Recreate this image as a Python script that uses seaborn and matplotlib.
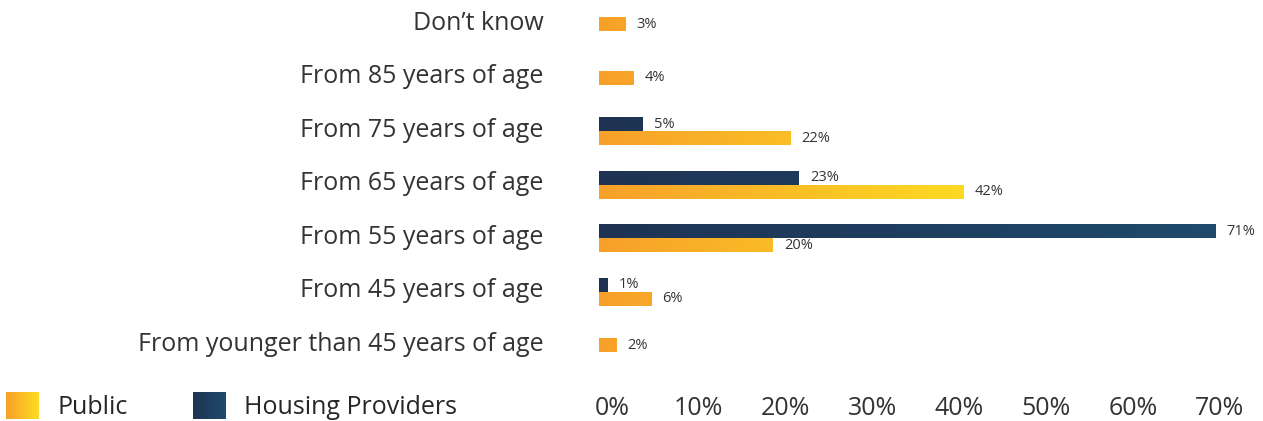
import numpy as np
import pandas as pd
import seaborn as sns
import matplotlib.pyplot as plt
import matplotlib.transforms as mtransforms
from matplotlib.colors import LinearSegmentedColormap
from matplotlib.patches import Patch

categories = ["Don\u2019t know", "From 85 years of age", "From 75 years of age",
              "From 65 years of age", "From 55 years of age", "From 45 years of age",
              "From younger than 45 years of age"]
public = [3, 4, 22, 42, 20, 6, 2]
housing = [None, None, 5, 23, 71, 1, None]
series = ["Housing Providers", "Public"]

rows = []
for cat, h, p in zip(categories, housing, public):
    if h is not None:
        rows.append((cat, "Housing Providers", h))
    rows.append((cat, "Public", p))
df = pd.DataFrame(rows, columns=["category", "group", "value"])

sns.set_style("white")
plt.rcParams["font.family"] = ["Open Sans", "DejaVu Sans"]

orange_cmap = LinearSegmentedColormap.from_list("pub", ["#F7A02A", "#FDDC22"])
navy_cmap = LinearSegmentedColormap.from_list("hp", ["#1E3354", "#1F4A6B"])

fig = plt.figure(figsize=(12.63, 4.21), dpi=100)
ax = fig.add_axes([599 / 1263, 49 / 421, 626 / 1263, 372 / 421])

sns.barplot(data=df, y="category", x="value", hue="group", hue_order=series,
            order=categories, palette={"Housing Providers": "#1F3C5E", "Public": "#F9B026"},
            width=0.52, orient="h", legend=False, ax=ax)

# bars with only one series sit in the middle of their row
has_housing = [h is not None for h in housing]
for i, bar in enumerate(ax.containers[1]):
    if not has_housing[i]:
        bar.set_y(i - bar.get_height() / 2)

# gradient fills
for cont, cmap, vmax in [(ax.containers[0], navy_cmap, 71), (ax.containers[1], orange_cmap, 44)]:
    for bar in cont:
        x0, y0, w, h = bar.get_x(), bar.get_y(), bar.get_width(), bar.get_height()
        if not w or np.isnan(w):
            continue
        grad = np.linspace(0, w, 256).reshape(1, -1)
        ax.imshow(grad, extent=[x0, x0 + w, y0 + h, y0], cmap=cmap, vmin=0, vmax=vmax,
                  aspect="auto", zorder=3, interpolation="bilinear")
ax.set_xlim(0, 72.1)
ax.set_ylim(6.5, -0.45)

for cont in ax.containers:
    ax.bar_label(cont, labels=[f"{v:g}%" for v in cont.datavalues], padding=8,
                 fontsize=10.5, color="#333333")

ax.set_xticks(range(0, 71, 10))
ax.set_xticklabels([f"{t}%" for t in range(0, 71, 10)])
ax.tick_params(axis="x", length=0, pad=17, labelsize=18, labelcolor="#333333")
ax.tick_params(axis="y", length=0, pad=40, labelsize=18, labelcolor="#333333")
xshift = mtransforms.ScaledTranslation(13 / 100, 0, fig.dpi_scale_trans)
for lab in ax.get_xticklabels():
    lab.set_transform(lab.get_transform() + xshift)
yshift = mtransforms.ScaledTranslation(0, 4 / 100, fig.dpi_scale_trans)
for lab in ax.get_yticklabels():
    lab.set_transform(lab.get_transform() + yshift)
ax.set_xlabel("")
ax.set_ylabel("")
sns.despine(ax=ax, left=True, bottom=True)

handles = [Patch(color="#FAB526", label="Public"),
           Patch(color="#1F3D5F", label="Housing Providers")]
leg = fig.legend(handles=handles, loc="lower left", bbox_to_anchor=(6 / 1263, 1 / 421),
                 ncol=2, frameon=False, fontsize=18, handlelength=1.3, handleheight=1.3,
                 handletextpad=0.75, columnspacing=2.6, borderpad=0, borderaxespad=0)

# gradient on the legend keys
fig.canvas.draw()
renderer = fig.canvas.get_renderer()
for patch, cmap in zip(leg.legend_handles, [orange_cmap, navy_cmap]):
    bb = patch.get_window_extent(renderer)
    x0, y0 = fig.transFigure.inverted().transform((bb.x0, bb.y0))
    x1, y1 = fig.transFigure.inverted().transform((bb.x1, bb.y1))
    patch.set_facecolor("none")
    patch.set_edgecolor("none")
    kax = fig.add_axes([x0, y0, x1 - x0, y1 - y0], zorder=10)
    kax.imshow(np.linspace(0, 1, 64).reshape(1, -1), cmap=cmap, aspect="auto",
               interpolation="bilinear")
    kax.set_axis_off()

fig.savefig("out.png", dpi=100)
